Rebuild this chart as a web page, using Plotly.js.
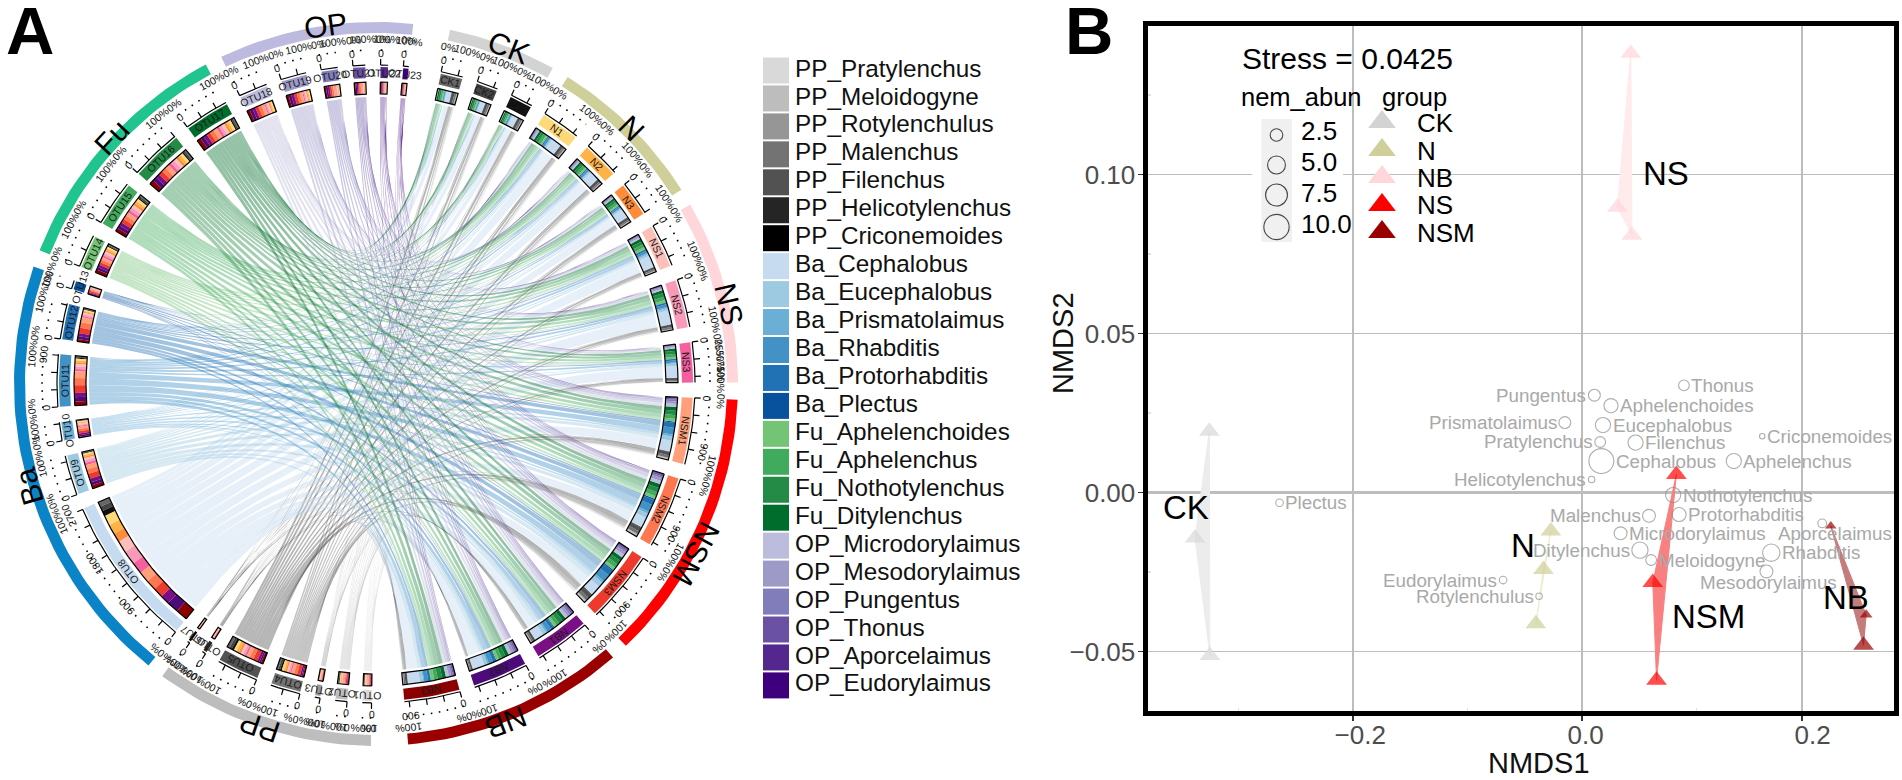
<!DOCTYPE html>
<html><head><meta charset="utf-8">
<script src="https://cdn.plot.ly/plotly-3.0.1.min.js"></script>
<style>html,body{margin:0;padding:0;background:#fff}#c{width:1902px;height:780px}</style>
</head><body><div id="c"></div>
<script>
// ---------- Panel A data: reads of the OTU x sample abundance table ----------
const sampleNames = ['CK1','CK2','CK3','N1','N2','N3','NS1','NS2','NS3','NSM1','NSM2','NSM3','NB1','NB2','NB3'];
const sampleColors = ['#666666','#444444','#111111','#ffd978','#ffb347','#ff8c3a','#fcc0b8','#f99bb8','#f55f9f','#ffa07a','#ff7750','#ee3a2c','#7a0f85','#4d0a7a','#8b0000'];
const otuNames = ['OTU1','OTU2','OTU3','OTU4','OTU5','OTU6','OTU7','OTU8','OTU9','OTU10','OTU11','OTU12','OTU13','OTU14','OTU15','OTU16','OTU17','OTU18','OTU19','OTU20','OTU21','OTU22','OTU23'];
const genusLabels = ['PP_Pratylenchus','PP_Meloidogyne','PP_Rotylenchulus','PP_Malenchus','PP_Filenchus','PP_Helicotylenchus','PP_Criconemoides','Ba_Cephalobus','Ba_Eucephalobus','Ba_Prismatolaimus','Ba_Rhabditis','Ba_Protorhabditis','Ba_Plectus','Fu_Aphelenchoides','Fu_Aphelenchus','Fu_Nothotylenchus','Fu_Ditylenchus','OP_Microdorylaimus','OP_Mesodorylaimus','OP_Pungentus','OP_Thonus','OP_Aporcelaimus','OP_Eudorylaimus'];
const genusColors = ['#d9d9d9','#bdbdbd','#969696','#737373','#525252','#252525','#000000','#c6dbef','#9ecae1','#6baed6','#4292c6','#2171b5','#08519c','#74c476','#41ab5d','#238b45','#006d2c','#bcbddc','#9e9ac8','#807dba','#6a51a3','#54278f','#3f007d'];
const OTU1  = [10,9,10,11,10,10,9,9,8,14,17,18,10,7,8];
const OTU2  = [13,12,13,14,13,12,11,12,10,19,23,23,14,9,9];
const OTU3  = [6,5,6,6,6,5,5,5,5,8,10,10,6,4,7];
const OTU4  = [34,32,34,36,33,31,28,31,26,47,58,60,30,20,26];
const OTU5  = [50,44,46,50,47,44,40,44,36,60,75,80,42,30,43];
const OTU6  = [4,4,4,4,4,4,3,4,3,6,7,7,4,4,4];
const OTU7  = [3,3,3,3,3,3,2,3,2,4,5,5,2,2,2];
const OTU8  = [90,90,100,190,180,170,220,260,220,200,190,190,170,220,220];
const OTU9  = [10,12,15,25,30,30,40,45,45,80,85,95,70,60,62];
const OTU10 = [8,8,10,15,15,12,22,22,18,38,40,42,32,30,17];
const OTU11 = [15,15,20,35,35,30,45,50,40,125,135,140,80,80,75];
const OTU12 = [10,10,12,20,20,18,28,32,25,95,100,105,55,55,44];
const OTU13 = [2,2,2,5,5,4,8,8,6,22,24,26,14,14,8];
const OTU14 = [20,20,18,33,32,30,40,42,36,50,52,50,50,48,61];
const OTU15 = [30,30,28,48,46,45,55,64,52,70,75,75,65,60,65];
const OTU16 = [32,32,28,52,48,48,60,68,55,80,85,85,78,75,85];
const OTU17 = [28,28,26,47,44,42,55,56,47,70,78,70,67,67,73];
const OTU18 = [6,6,6,25,24,22,28,28,23,55,60,60,55,55,54];
const OTU19 = [5,5,5,23,21,20,24,26,20,48,54,54,50,50,46];
const OTU20 = [3,3,4,14,13,12,15,16,12,33,33,33,35,34,31];
const OTU21 = [3,2,3,11,11,10,11,12,10,23,25,25,24,24,22];
const OTU22 = [2,1,1,7,6,5,7,8,6,14,16,16,14,14,14];
const OTU23 = [1,1,1,5,5,4,5,5,4,10,12,12,10,10,9];
const otuRows = [OTU1,OTU2,OTU3,OTU4,OTU5,OTU6,OTU7,OTU8,OTU9,OTU10,OTU11,OTU12,OTU13,OTU14,OTU15,OTU16,OTU17,OTU18,OTU19,OTU20,OTU21,OTU22,OTU23];
const groupNames = ['CK','N','NS','NSM','NB','PP','Ba','Fu','OP'];
const groupColors = ['#d3d3d3','#cfcf99','#ffd6da','#ff0000','#9b0000','#bdbdbd','#0a84c6','#1fc48f','#bcbade'];
const groupMembers = [['CK1','CK3'],['N1','N3'],['NS1','NS3'],['NSM1','NSM3'],['NB1','NB3'],['OTU1','OTU7'],['OTU8','OTU13'],['OTU14','OTU17'],['OTU18','OTU23']];
const groupLabelAngles = [21.5,45,77.3,118,159,198.7,253.6,313,352];
const tickLabelSectors = ['OTU8','OTU11','NSM1','NSM2','NSM3','NB3'];
// ---------- Panel B data ----------
const speciesNames = ['Thonus','Pungentus','Aphelenchoides','Prismatolaimus','Eucephalobus','Pratylenchus','Filenchus','Criconemoides','Cephalobus','Aphelenchus','Helicotylenchus','Nothotylenchus','Plectus','Malenchus','Protorhabditis','Aporcelaimus','Microdorylaimus','Ditylenchus','Meloidogyne','Rhabditis','Mesodorylaimus','Eudorylaimus','Rotylenchulus'];
const speciesX = [0.089,0.0108,0.0253,-0.015,0.0183,0.0159,0.0468,0.1574,0.0169,0.1326,0.0084,0.0796,-0.2642,0.0585,0.0848,0.2098,0.0337,0.0506,0.0604,0.1653,0.1611,-0.0689,-0.0375];
const speciesY = [0.0337,0.0306,0.0273,0.022,0.0212,0.0159,0.0157,0.0177,0.0099,0.0099,0.0041,-0.0008,-0.0032,-0.0073,-0.0069,-0.0097,-0.0128,-0.0181,-0.0212,-0.0189,-0.0248,-0.0275,-0.0326];
const speciesAbun = [1.8,2.2,3.1,2.2,3.6,1.8,3.6,0.46,9.7,3.6,0.66,3.6,0.9,2.6,3.1,1.2,2.6,4.1,1.8,4.7,2.6,0.9,0.66];
const speciesSide = ['r','l','r','l','r','l','r','r','r','r','l','r','r','l','r','b','r','l','r','r','b2','l','l'];
const groupPts = {
  CK:  {x:[-0.3255,-0.338,-0.325], y:[0.0193,-0.0143,-0.0512], c:'#d9d9d9', f:'#ececec', s:[18,18,18]},
  N:   {x:[-0.0272,-0.0337,-0.0403], y:[-0.0121,-0.0242,-0.0412], c:'#cfcf99', f:'#ededd0', s:[18,18,18]},
  NS:  {x:[0.0426,0.0309,0.0436], y:[0.1381,0.0897,0.0809], c:'#ffd6da', f:'#ffeaec', s:[18,18,18]},
  NSM: {x:[0.0824,0.0618,0.0651], y:[0.0057,-0.0283,-0.059], c:'#ff0000', f:'#f98080', s:[18,18,18]},
  NB:  {x:[0.2173,0.2482,0.2459], y:[-0.0105,-0.0384,-0.048], c:'#9b0000', f:'#c47c7c', s:[10,11,18]}
};
const groupTextX = [-0.368,-0.0635,0.0512,0.077,0.209];
const groupTextY = [-0.0047,-0.0165,0.1004,-0.0391,-0.0331];
const abunLegend = [2.5,5.0,7.5,10.0];
const groupLegend = ['CK','N','NB','NS','NSM'];
const groupLegendColors = ['#d3d3d3','#cfcf99','#ffd6da','#ff0000','#9b0000'];

// ---------- geometry constants (pixels of the page) ----------
const W=1902,H=780,CX=376,CY=384;
const R={link:287,ring0:290,ring1:302,band0:306,band1:317,axis:319,tick:325,num:331,dots:334,pct:345,outer0:351,outer1:362};
const GAP=2.75,BIGGAP=5.9,START=11.8;
const rad=d=>d*Math.PI/180;
const px=(r,a)=>r*Math.sin(rad(a));
const py=(r,a)=>r*Math.cos(rad(a));
const data=[],ann=[];

// sector totals and angular scale
const sampleTotals=sampleNames.map((_,j)=>otuRows.reduce((s,row)=>s+row[j],0));
const otuTotals=otuRows.map(r=>r.reduce((a,b)=>a+b,0));
const T=otuTotals.reduce((a,b)=>a+b,0);
const scale=(360-36*GAP-2*BIGGAP)/(2*T);
const sectors={};let ang=START;
sampleNames.forEach((n,j)=>{const sp=sampleTotals[j]*scale;sectors[n]={a0:ang,a1:ang+sp,total:sampleTotals[j],color:sampleColors[j]};ang+=sp+(j===sampleNames.length-1?BIGGAP:GAP);});
otuNames.forEach((n,i)=>{const sp=otuTotals[i]*scale;sectors[n]={a0:ang,a1:ang+sp,total:otuTotals[i],color:genusColors[i]};ang+=sp+GAP;});

function arc(r,a0,a1){const n=Math.max(2,Math.ceil(Math.abs(a1-a0)/1.5)+1),X=[],Y=[];for(let k=0;k<n;k++){const a=a0+(a1-a0)*k/(n-1);X.push(px(r,a));Y.push(py(r,a));}return [X,Y];}
function annular(r0,r1,a0,a1){const [x1,y1]=arc(r1,a0,a1),[x0,y0]=arc(r0,a1,a0);return [x1.concat(x0,[x1[0]]),y1.concat(y0,[y1[0]])];}
function poly(X,Y,fill,extra){data.push(Object.assign({type:'scatter',mode:'lines',xaxis:'x2',yaxis:'y2',x:X,y:Y,fill:'toself',fillcolor:fill,line:{width:0},hoverinfo:'skip',showlegend:false},extra||{}));}
function lineTrace(X,Y,color,width,dash){data.push({type:'scatter',mode:'lines',xaxis:'x2',yaxis:'y2',x:X,y:Y,line:{color:color,width:width,dash:dash||'solid'},hoverinfo:'skip',showlegend:false,connectgaps:false});}
function rgba(h,a){const v=parseInt(h.slice(1),16);return `rgba(${v>>16},${(v>>8)&255},${v&255},${a})`;}
function note(text,r,a,size,color,extra){let t=a%360;if(t>180)t-=360;ann.push(Object.assign({xref:'x2',yref:'y2',x:px(r,a),y:py(r,a),text:text,showarrow:false,textangle:t,font:{size:size,color:color||'#000',family:'Liberation Sans, Arial, sans-serif'},xanchor:'center',yanchor:'middle'},extra||{}));}

// offsets of each link inside its two sectors (clockwise: sample end runs OTU23..OTU1, OTU end runs NB3..CK1)
const otuCells={},sampleCells={};
otuNames.forEach((n,i)=>{let a=sectors[n].a0;otuCells[n]=[];for(let j=sampleNames.length-1;j>=0;j--){const sp=otuRows[i][j]*scale;otuCells[n][j]=[a,a+sp];a+=sp;}});
sampleNames.forEach((n,j)=>{let a=sectors[n].a0;sampleCells[n]=[];for(let i=otuNames.length-1;i>=0;i--){const sp=otuRows[i][j]*scale;sampleCells[n][i]=[a,a+sp];a+=sp;}});

// ribbons
function bez(a,b){const X=[],Y=[];const ax=px(R.link,a),ay=py(R.link,a),bx=px(R.link,b),by=py(R.link,b);for(let k=0;k<=28;k++){const t=k/28,u=1-t;X.push(u*u*ax+t*t*bx);Y.push(u*u*ay+t*t*by);}return [X,Y];}
otuNames.forEach((n,i)=>{sampleNames.forEach((m,j)=>{
  const [a0,a1]=otuCells[n][j],[b0,b1]=sampleCells[m][i];
  const [x1,y1]=arc(R.link,a0,a1),[x2,y2]=bez(a1,b0),[x3,y3]=arc(R.link,b0,b1),[x4,y4]=bez(b1,a0);
  poly(x1.concat(x2,x3,x4),y1.concat(y2,y3,y4),rgba(genusColors[i],0.42));
});});

// stacked rings
genusColors.forEach((col,i)=>{let X=[],Y=[];sampleNames.forEach(m=>{const [b0,b1]=sampleCells[m][i];const [x,y]=annular(R.ring0,R.ring1,b0,b1);X=X.concat(x,[null]);Y=Y.concat(y,[null]);});poly(X,Y,col);});
sampleColors.forEach((col,j)=>{let X=[],Y=[];otuNames.forEach(n=>{const [a0,a1]=otuCells[n][j];const [x,y]=annular(R.ring0,R.ring1,a0,a1);X=X.concat(x,[null]);Y=Y.concat(y,[null]);});poly(X,Y,col);});
// ring outlines, bands, axes
let ox=[],oy=[],ax=[],ay=[],dx=[],dy=[];
Object.keys(sectors).forEach(n=>{
  const s=sectors[n];
  const [x,y]=annular(R.ring0,R.ring1,s.a0,s.a1);ox=ox.concat(x,[null]);oy=oy.concat(y,[null]);
  const [bx,by]=annular(R.band0,R.band1,s.a0,s.a1);poly(bx,by,s.color);
  const [lx,ly]=arc(R.axis,s.a0,s.a1);ax=ax.concat(lx,[null]);ay=ay.concat(ly,[null]);
  for(let v=0;v<=s.total;v+=300){const a=s.a0+v*scale;ax.push(px(R.axis,a),px(R.tick,a),null);ay.push(py(R.axis,a),py(R.tick,a),null);}
  const [tx,ty]=arc(R.dots,s.a0,s.a1);dx=dx.concat(tx,[null]);dy=dy.concat(ty,[null]);
  note(n,(R.band0+R.band1)/2,(s.a0+s.a1)/2,10.5,'#1a1a1a');
  note('0',R.num,s.a0,10.5,'#111');
  if(tickLabelSectors.includes(n)){for(let v=900;v<=s.total;v+=900)note(String(v),R.num+3,s.a0+v*scale,10.5,'#111');}
  note('0%',R.pct,s.a0+0.4,10.5,'#111');
  note('100%',R.pct,s.a1-0.4,10.5,'#111');
  if(n==='NS3'){[25,50,75].forEach(p=>note(p+'%',R.pct,s.a0+(s.a1-s.a0)*p/100,10.5,'#111'));}
});
lineTrace(ox,oy,'#000',1.2);
lineTrace(ax,ay,'#000',1.2);
lineTrace(dx,dy,'#000',1.6,'1.6px,6.5px');
// outer group arcs and their names
groupNames.forEach((g,k)=>{const a0=sectors[groupMembers[k][0]].a0,a1=sectors[groupMembers[k][1]].a1;
  const [x,y]=annular(R.outer0,R.outer1,a0,a1);poly(x,y,groupColors[k]);
  note(g,R.outer1,groupLabelAngles[k],30,'#000');});

// gene legend
const legX=776,legTextX=795,legY0=70.5,legDY=27.95;
data.push({type:'scatter',mode:'markers',xaxis:'x2',yaxis:'y2',x:genusLabels.map(()=>legX-CX),y:genusLabels.map((_,i)=>CY-(legY0+i*legDY)),marker:{symbol:'square',size:26,color:genusColors,line:{width:0}},hoverinfo:'skip',showlegend:false});
data.push({type:'scatter',mode:'text',xaxis:'x2',yaxis:'y2',x:genusLabels.map(()=>legTextX-CX),y:genusLabels.map((_,i)=>CY-(legY0+i*legDY)),text:genusLabels,textposition:'middle right',textfont:{size:24.3,color:'#111',family:'Liberation Sans, Arial, sans-serif'},hoverinfo:'skip',showlegend:false});

// ---------- Panel B ----------
const size=a=>8*Math.sqrt(a);
const GF='Liberation Sans, Arial, sans-serif';
Object.keys(groupPts).forEach(k=>{const g=groupPts[k];
  data.push({type:'scatter',mode:'lines',x:g.x.concat([g.x[0]]),y:g.y.concat([g.y[0]]),fill:'toself',fillcolor:g.f,line:{width:1,color:g.f},hoverinfo:'skip',showlegend:false});});
Object.keys(groupPts).forEach(k=>{const g=groupPts[k];
  data.push({type:'scatter',mode:'markers',x:g.x,y:g.y,marker:{symbol:'triangle-up',size:g.s,color:g.c,line:{width:0}},hoverinfo:'skip',showlegend:false,cliponaxis:true});});
data.push({type:'scatter',mode:'markers',x:speciesX,y:speciesY,marker:{symbol:'circle',size:speciesAbun.map(size),color:'rgba(255,255,255,0)',line:{color:'#8c8c8c',width:1.1}},hoverinfo:'skip',showlegend:false});
speciesNames.forEach((n,i)=>{
  const side=speciesSide[i],sz=size(speciesAbun[i]);
  let o={xref:'x',yref:'y',x:speciesX[i],y:speciesY[i],text:n,showarrow:false,font:{size:18.8,color:'#a9a9a9',family:GF}};
  if(side==='r'){o.xanchor='left';o.xshift=sz/2;}
  else if(side==='l'){o.xanchor='right';o.xshift=-sz/2;}
  else if(side==='b'){o.xanchor='center';o.xshift=13;o.yshift=-10;}
  else {o.xanchor='center';o.xshift=2;o.yshift=-11;}
  ann.push(o);
});
['CK','N','NS','NSM','NB'].forEach((g,i)=>ann.push({xref:'x',yref:'y',x:groupTextX[i],y:groupTextY[i],text:g,showarrow:false,xanchor:'left',font:{size:33,color:'#000',family:GF}}));

// in-plot legend (pixel placement on the page-wide axes, drawn above panel B's grid)
const P=(x,y)=>[x-CX,CY-y];
const rect=(x0,y0,x1,y1)=>{const a=P(x0,y0),b=P(x1,y1);return [[a[0],b[0],b[0],a[0],a[0]],[a[1],a[1],b[1],b[1],a[1]]];};
let r1=rect(1252,90,1343,246);poly(r1[0],r1[1],'#ffffff');
let r2=rect(1261.5,119,1292,242);poly(r2[0],r2[1],'#f0f0f0');
const abunY=[135,165,195,227],groupY=[122,150,177,205,232];
data.push({type:'scatter',mode:'markers',xaxis:'x2',yaxis:'y2',x:abunLegend.map(()=>1276.5-CX),y:abunY.map(y=>CY-y),marker:{symbol:'circle',size:abunLegend.map(size),color:'rgba(255,255,255,0)',line:{color:'#000',width:1.1}},hoverinfo:'skip',showlegend:false});
data.push({type:'scatter',mode:'markers',xaxis:'x2',yaxis:'y2',x:groupLegend.map(()=>1382-CX),y:groupY.map(y=>CY-y),marker:{symbol:'triangle-up',size:24,color:groupLegendColors,line:{width:0}},hoverinfo:'skip',showlegend:false});
const pageNote=(text,x,y,size,anchor,color,extra)=>ann.push(Object.assign({xref:'x2',yref:'y2',x:x-CX,y:CY-y,text:text,showarrow:false,xanchor:anchor,yanchor:'middle',font:{size:size,color:color||'#000',family:GF}},extra||{}));
pageNote('Stress = 0.0425',1240,58,30,'left');
pageNote('nem_abun',1239,97,25.5,'left');
pageNote('group',1380,97,25.5,'left');
abunLegend.forEach((v,i)=>pageNote(v.toFixed(1),1299,[131,162,193,224][i],26,'left'));
groupLegend.forEach((g,i)=>pageNote(g,1415,[123,151,178,205,233][i],26,'left'));
pageNote('NMDS1',1538.5,763,29,'center','#111');
pageNote('NMDS2',1063,343,29,'center','#111',{textangle:-90});
ann.push({xref:'x2',yref:'y2',x:30-CX,y:CY-36,text:'<b>A</b>',showarrow:false,xanchor:'center',yanchor:'middle',font:{size:67,color:'#000',family:GF},yshift:6});
ann.push({xref:'x2',yref:'y2',x:1089-CX,y:CY-36,text:'<b>B</b>',showarrow:false,xanchor:'center',yanchor:'middle',font:{size:67,color:'#000',family:GF},yshift:6});

const layout={width:W,height:H,margin:{l:0,r:0,t:0,b:0},paper_bgcolor:'#fff',plot_bgcolor:'rgba(0,0,0,0)',showlegend:false,
  font:{family:GF},
  xaxis:{domain:[1147.5/W,1894/W],range:[-0.3795,0.2725],anchor:'y',tickmode:'array',tickvals:[-0.2,0,0.192],ticktext:['\u00A0\u00A0\u22120.2','\u00A00.0','\u00A0\u00A0\u00A00.2'],ticklabelstandoff:-8,
    showgrid:true,gridcolor:'#bdbdbd',gridwidth:1.6,zeroline:true,zerolinecolor:'#bdbdbd',zerolinewidth:2.5,showline:true,linecolor:'#000',linewidth:5,mirror:true,ticks:'outside',ticklen:5,tickwidth:1.5,tickcolor:'#333',tickfont:{size:26,color:'#4d4d4d',family:GF},
    minor:{tickmode:'array',tickvals:[-0.3,-0.1,0.1],ticks:'inside',ticklen:3,tickcolor:'#e0e0e0',showgrid:false},fixedrange:true},
  yaxis:{domain:[1-710.5/H,1-25.5/H],range:[-0.0685,0.1468],anchor:'x',tickmode:'array',tickvals:[-0.05,0,0.05,0.1],ticktext:['\u22120.05','0.00','0.05','0.10'],ticklabelstandoff:-3,
    showgrid:true,gridcolor:'#bdbdbd',gridwidth:1.6,zeroline:true,zerolinecolor:'#bdbdbd',zerolinewidth:3,showline:true,linecolor:'#000',linewidth:5,mirror:true,ticks:'outside',ticklen:5,tickwidth:1.5,tickcolor:'#333',tickfont:{size:26,color:'#4d4d4d',family:GF},
    minor:{tickmode:'array',tickvals:[-0.025,0.025,0.075,0.125],ticks:'inside',ticklen:3,tickcolor:'#e0e0e0',showgrid:false},fixedrange:true},
  xaxis2:{domain:[0,1],range:[-CX,W-CX],anchor:'y2',visible:false,fixedrange:true},
  yaxis2:{domain:[0,1],range:[CY-H,CY],anchor:'x2',visible:false,fixedrange:true},
  annotations:ann};
Plotly.newPlot('c',data,layout,{staticPlot:true,displayModeBar:false});
</script></body></html>
